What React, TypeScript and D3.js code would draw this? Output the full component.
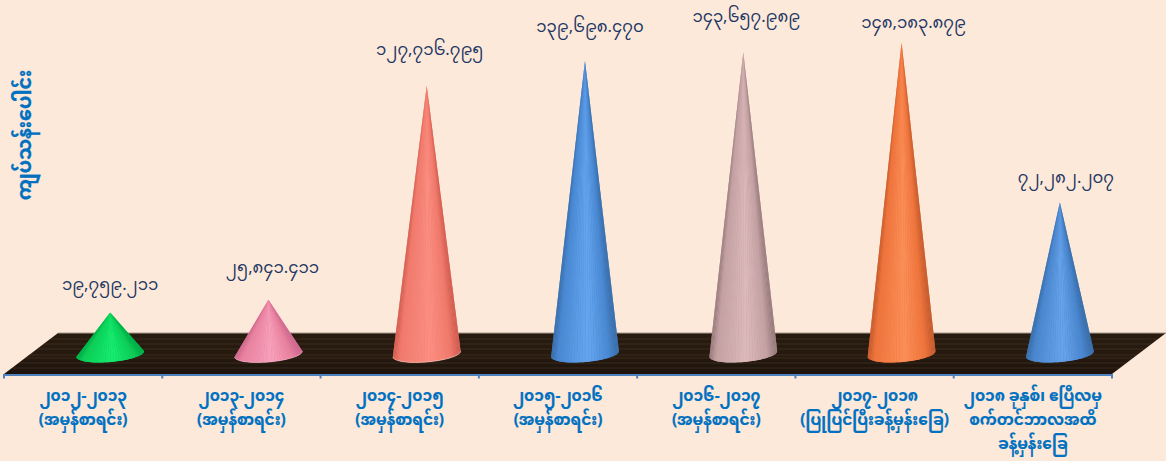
import React from "react";
import * as d3 from "d3";

const categories = [
  ["၂၀၁၂-၂၀၁၃", "(အမှန်စာရင်း)"],
  ["၂၀၁၃-၂၀၁၄", "(အမှန်စာရင်း)"],
  ["၂၀၁၄-၂၀၁၅", "(အမှန်စာရင်း)"],
  ["၂၀၁၅-၂၀၁၆", "(အမှန်စာရင်း)"],
  ["၂၀၁၆-၂၀၁၇", "(အမှန်စာရင်း)"],
  ["၂၀၁၇-၂၀၁၈", "(ပြုပြင်ပြီးခန့်မှန်းခြေ)"],
  ["၂၀၁၈ ခုနှစ်၊ ဧပြီလမှ", "စက်တင်ဘာလအထိ", "ခန့်မှန်းခြေ"],
];
const values = [19759.211, 25841.411, 127716.795, 139698.47, 143657.989, 148183.879, 72282.207];
const yTitle = "ကျပ်သန်းပေါင်း";

// edge, mid, highlight
const coneColors = [
  ["#00a844", "#0ccf58", "#16ec70"],
  ["#c9628a", "#e8829f", "#f7a0bd"],
  ["#c9574a", "#f07a6c", "#fb8f82"],
  ["#36689f", "#4a88d2", "#66a6f0"],
  ["#8d7274", "#c3a0a2", "#dcb9ba"],
  ["#b9562c", "#ee743c", "#fb8f58"],
  ["#36689f", "#4a86ce", "#68a4ea"],
];
const rimColors = [null, "#fbc4d6", "#fde0d8", null, null, null, null];

// hand placed offsets of the value labels from the cone tips
const labelDx = [0, 4, 3, 5, 3, 12, 6];
const labelDy = [-27, -31, -35, -33, -35, -19, -24];

const width = 1166;
const height = 461;
const depth = 54;
const floorFront = 374;
const floorBack = 333;
const coneBase = 354;
const coneRx = 34;
const coneRy = 8;
const coneTilt = (-5 * Math.PI) / 180;
const facets = 36;

const x = d3.scaleBand<number>().domain(d3.range(categories.length)).range([4, 1112]);
const y = d3.scaleLinear().domain([0, 160000]).range([coneBase, 18]);
const burmese = (s: string) => s.replace(/[0-9]/g, (d) => String.fromCharCode(0x1040 + +d));
const fmt = d3.format(",.3f");

const floorStreaks = [339, 344, 349, 355, 358, 363, 368];

function basePoint(cx: number, a: number): [number, number] {
  const ex = coneRx * Math.cos(a);
  const ey = coneRy * Math.sin(a);
  return [
    cx + ex * Math.cos(coneTilt) - ey * Math.sin(coneTilt),
    coneBase + ex * Math.sin(coneTilt) + ey * Math.cos(coneTilt),
  ];
}

function Cone({ i, value }: { i: number; value: number }) {
  const cx = x(i)! + x.bandwidth() / 2 + 27;
  const tip: [number, number] = [cx, y(value)];
  const [edge, mid, high] = coneColors[i];
  const shade = d3.scaleLinear<string>().domain([0, 0.1, 0.55, 0.85, 1]).range([edge, mid, high, mid, edge]);
  // walk along the front of the base, from the left corner to the right one
  const angle = d3.scaleLinear().domain([0, 1]).range([Math.PI, 0]);
  const basePts = d3.range(facets + 1).map((k) => basePoint(cx, angle(k / facets)));
  return (
    <g>
      <g filter="url(#coneSoft)">
        <path d={`${d3.line()([tip, ...basePts])}Z`} fill={mid} />
        {d3.range(facets).map((k) => {
          const a = basePts[k];
          const b = basePts[k + 1];
          const c = shade(Math.abs(a[0] + b[0] - 2 * (cx - coneRx)) / (4 * coneRx));
          return <path key={k} d={`${d3.line()([tip, a, b])}Z`} fill={c} />;
        })}
      </g>
      {rimColors[i] && (
        <path d={d3.line()(basePts)!} fill="none" stroke={rimColors[i]!} strokeWidth={0.9} opacity={0.55} />
      )}
    </g>
  );
}

export default function App() {
  const floor = d3.line()([
    [4, floorFront],
    [4 + depth, floorBack],
    [1112 + depth, floorBack],
    [1112, floorFront],
  ]) + "Z";
  const backEdge = d3.line()([
    [4 + depth, floorBack],
    [1112 + depth, floorBack],
  ])!;
  return (
    <svg
      width={width}
      height={height}
      style={{ position: "absolute", left: 0, top: 0, background: "#fde9da" }}
      fontFamily="'Noto Sans Myanmar','Padauk','Myanmar Text','Noto Sans',sans-serif"
    >
      <defs>
        <linearGradient id="wood" x1="0" x2="0" y1="0" y2="1">
          <stop offset="0" stopColor="#281c11" />
          <stop offset="0.6" stopColor="#251910" />
          <stop offset="1" stopColor="#1d130c" />
        </linearGradient>
        <clipPath id="floorClip">
          <path d={floor} />
        </clipPath>
        <filter id="soft">
          <feGaussianBlur stdDeviation="0.6" />
        </filter>
        <filter id="coneSoft" x="-10%" y="-5%" width="120%" height="110%">
          <feGaussianBlur stdDeviation="0.45" />
        </filter>
      </defs>

      <path d={floor} fill="url(#wood)" />
      <g clipPath="url(#floorClip)" filter="url(#soft)">
        {floorStreaks.map((s) => (
          <line key={s} x1={0} x2={width} y1={s} y2={s} stroke="#57442f" strokeWidth={1} opacity={0.4} />
        ))}
      </g>
      <path d={backEdge} stroke="#a89a8a" strokeWidth={1} fill="none" />

      <line x1={4} x2={1112} y1={floorFront + 1} y2={floorFront + 1} stroke="#4f81bd" strokeWidth={2} />
      {d3.range(categories.length + 1).map((i) => {
        const tx = 4 + i * x.step();
        return <line key={i} x1={tx} x2={tx} y1={floorFront} y2={floorFront + 4.5} stroke="#4f81bd" strokeWidth={2} />;
      })}

      {values.map((v, i) => (
        <g key={i}>
          <Cone i={i} value={v} />
          <text
            x={x(i)! + x.bandwidth() / 2 + 27 + labelDx[i]}
            y={y(v) + labelDy[i]}
            textAnchor="middle"
            dominantBaseline="middle"
            fontSize={16.5}
            fill="#1f3864"
          >
            {burmese(fmt(v))}
          </text>
        </g>
      ))}

      {categories.map((lines, i) => (
        <text
          key={i}
          textAnchor="middle"
          fontSize={15.3}
          fontWeight="bold"
          fill="#0070c0"
          stroke="#0070c0"
          strokeWidth={0.2}
        >
          {lines.map((l, j) => (
            <tspan key={j} x={x(i)! + x.bandwidth() / 2} y={401 + j * 24}>
              {l}
            </tspan>
          ))}
        </text>
      ))}

      <text
        transform="translate(31,135) rotate(-90)"
        textAnchor="middle"
        fontSize={19}
        fontWeight="bold"
        fill="#0070c0"
        stroke="#0070c0"
        strokeWidth={0.3}
      >
        {yTitle}
      </text>
    </svg>
  );
}
